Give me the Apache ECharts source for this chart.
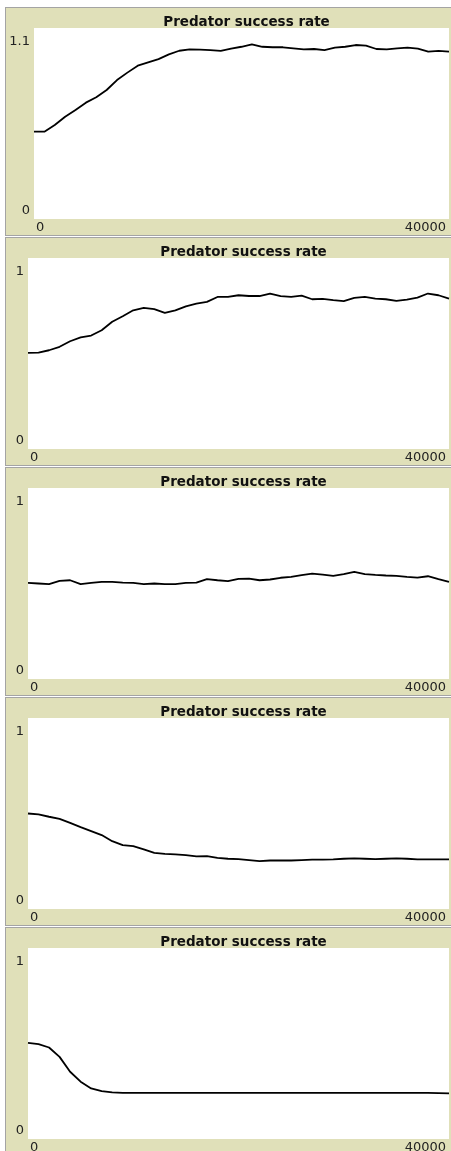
<!DOCTYPE html>
<html><head><meta charset="utf-8">
<script src="https://cdn.jsdelivr.net/npm/echarts@6/dist/echarts.min.js"></script>
<style>
html,body{margin:0;padding:0;background:#fff;width:451px;height:1151px;overflow:hidden;}
.panel{position:absolute;left:5px;width:448px;height:229px;box-sizing:border-box;border:1px solid #a4a4a4;background:#e0e0b9;}
.chart{position:absolute;left:0;top:0;width:446px;height:227px;}
</style>
</head><body>
<script>
// x positions (ticks of the model)
const steps = [0,1000,2000,3000,4000,5000,6000,7000,8000,9000,10000,11000,12000,13000,14000,15000,16000,17000,18000,19000,20000,21000,22000,23000,24000,25000,26000,27000,28000,29000,30000,31000,32000,33000,34000,35000,36000,37000,38000,39000,40000];

const rate1 = [0.503,0.503,0.541,0.589,0.628,0.670,0.701,0.743,0.800,0.843,0.883,0.902,0.921,0.948,0.969,0.977,0.975,0.973,0.968,0.981,0.992,1.006,0.992,0.989,0.989,0.983,0.977,0.979,0.973,0.987,0.992,1.002,0.998,0.979,0.977,0.983,0.987,0.981,0.964,0.968,0.964];
const rate2 = [0.503,0.505,0.517,0.535,0.564,0.584,0.594,0.622,0.666,0.695,0.726,0.739,0.732,0.713,0.726,0.747,0.761,0.770,0.796,0.796,0.805,0.801,0.801,0.814,0.800,0.796,0.803,0.784,0.786,0.779,0.774,0.791,0.796,0.787,0.784,0.775,0.782,0.793,0.814,0.805,0.787];
const rate3 = [0.503,0.500,0.497,0.514,0.517,0.497,0.503,0.509,0.509,0.505,0.503,0.497,0.500,0.497,0.497,0.503,0.505,0.523,0.517,0.512,0.524,0.526,0.517,0.521,0.530,0.535,0.544,0.552,0.547,0.540,0.549,0.561,0.549,0.545,0.542,0.540,0.535,0.531,0.538,0.523,0.509];
const rate4 = [0.500,0.495,0.483,0.472,0.451,0.429,0.408,0.387,0.355,0.334,0.329,0.312,0.294,0.289,0.286,0.282,0.275,0.277,0.268,0.263,0.261,0.256,0.251,0.254,0.254,0.254,0.256,0.258,0.258,0.260,0.263,0.265,0.263,0.261,0.263,0.265,0.263,0.260,0.260,0.260,0.260];
const rate5 = [0.503,0.497,0.479,0.430,0.352,0.300,0.265,0.251,0.244,0.242,0.242,0.242,0.242,0.242,0.242,0.242,0.242,0.242,0.242,0.242,0.242,0.242,0.242,0.242,0.242,0.242,0.242,0.242,0.242,0.242,0.242,0.242,0.242,0.242,0.242,0.242,0.242,0.242,0.241,0.240,0.239];

const seriesList = [rate1, rate2, rate3, rate4, rate5];
const yMaxList = [1.1, 1, 1, 1, 1];
const yMaxLabels = ['1.1', '1', '1', '1', '1'];
const titleText = 'Predator success rate';
const xMin = 0, xMax = 40000;

seriesList.forEach((vals, i) => {
  const panel = document.createElement('div');
  panel.className = 'panel';
  panel.style.top = (7 + 230 * i) + 'px';
  const c = document.createElement('div');
  c.className = 'chart';
  panel.appendChild(c);
  document.body.appendChild(panel);
  const chart = echarts.init(c, null, {renderer: 'canvas'});
  const left = i === 0 ? 28 : 22;
  const ymax = yMaxList[i];
  chart.setOption({
    animation: false,
    backgroundColor: 'transparent',
    title: {
      text: titleText, left: left + (446 - 3 - left) / 2, top: 2, textAlign: 'center',
      textStyle: {fontFamily: 'DejaVu Sans', fontSize: 13.5, fontWeight: 'bold', color: '#111'}
    },
    grid: {left: left, right: 3, top: 20, height: 191, show: true, backgroundColor: '#ffffff', borderWidth: 0},
    xAxis: {
      type: 'value', min: xMin, max: xMax, interval: xMax,
      axisLine: {show: false}, axisTick: {show: false}, splitLine: {show: false},
      axisLabel: {
        margin: 2, fontFamily: 'DejaVu Sans', fontSize: 13, color: '#222',
        alignMinLabel: 'left', alignMaxLabel: 'right', padding: [0, 3, 0, 2],
        formatter: v => String(v)
      }
    },
    yAxis: {
      type: 'value', min: 0, max: ymax, interval: ymax,
      axisLine: {show: false}, axisTick: {show: false}, splitLine: {show: false},
      axisLabel: {
        margin: 4, fontFamily: 'DejaVu Sans', fontSize: 13, color: '#222',
        verticalAlignMinLabel: 'bottom', verticalAlignMaxLabel: 'top', padding: [7, 0, 2, 0],
        formatter: v => (v === 0 ? '0' : yMaxLabels[i])
      }
    },
    series: [{
      type: 'line', showSymbol: false, symbol: 'none',
      data: steps.map((x, k) => [x, vals[k]]),
      lineStyle: {color: '#000', width: 1.8}
    }]
  });
});
</script>
</body></html>
